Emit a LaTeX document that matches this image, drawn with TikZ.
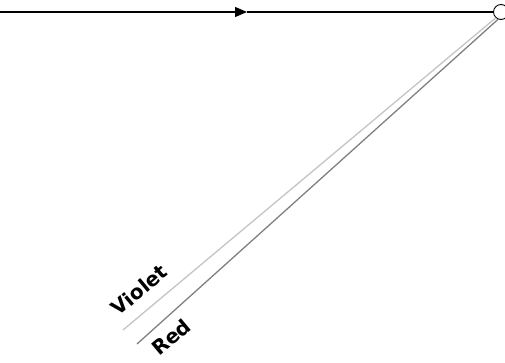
\documentclass[tikz,border=0pt]{standalone}
\usepackage{fontspec}
\setmainfont{DejaVu Sans}
\usetikzlibrary{arrows.meta}
\definecolor{violetgray}{HTML}{C4C4C4}
\definecolor{redgray}{HTML}{808080}
\tikzset{
  ray/.style={line width=1.2pt,black},
  beam/.style={line width=1.3pt},
  lbl/.style={font=\fontsize{20}{20}\selectfont\bfseries, rotate=40, inner sep=0pt}
}
\begin{document}
\begin{tikzpicture}[x=1pt,y=1pt]
\useasboundingbox (0,0) rectangle (505,362);
\node[circle, draw, line width=0.9pt, minimum size=15pt, inner sep=0pt] (c) at (501,350) {};
\coordinate (s) at (0,350);
\coordinate (m) at (247,350);
\coordinate (v) at (123,32);
\coordinate (r) at (137,18);
\draw[ray, -{Triangle[length=12pt,width=10pt]}] (s) -- (m);
\draw[ray] (m) -- (c.west);
\draw[beam, violetgray] (c.228) -- (v);
\draw[beam, redgray] (c.248) -- (r);
\node[lbl] (tv) at (139,72) {Violet};
\node[lbl] (tr) at (171,25) {Red};
\end{tikzpicture}
\end{document}
